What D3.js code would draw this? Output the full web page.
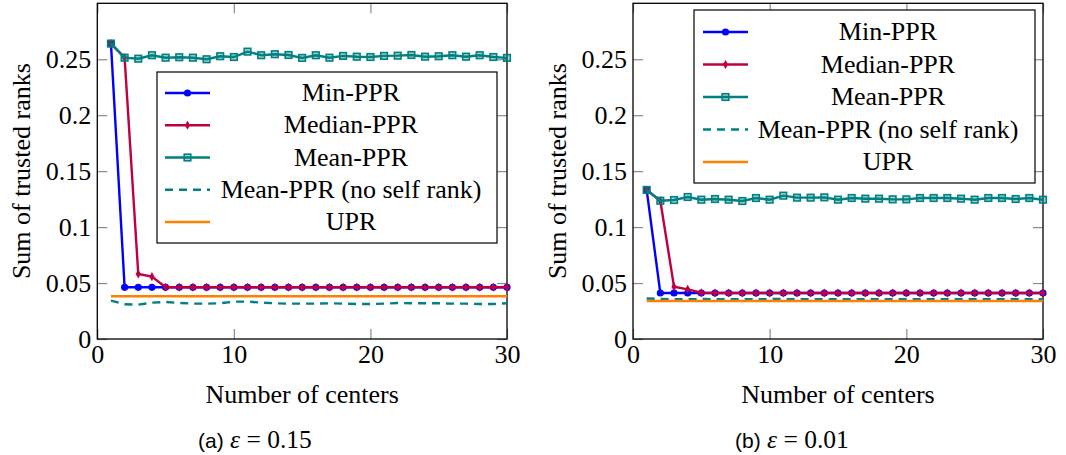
<!DOCTYPE html>
<html>
<head>
<meta charset="utf-8">
<script src="https://cdn.jsdelivr.net/npm/d3@7"></script>
<style>
  body { margin: 0; background: #fff; }
</style>
</head>
<body>
<svg id="chart" width="1066" height="455"></svg>
<script>
// number of centers on the x axis
const centers = [1, 2, 3, 4, 5, 6, 7, 8, 9, 10, 11, 12, 13, 14, 15, 16, 17, 18, 19, 20, 21, 22, 23, 24, 25, 26, 27, 28, 29, 30];

// (a) epsilon = 0.15
const minA = [0.264, 0.0462, 0.0462, 0.0462, 0.0462, 0.0462, 0.0462, 0.0462, 0.0462, 0.0462, 0.0462, 0.0462, 0.0462, 0.0462, 0.0462,
  0.0462, 0.0462, 0.0462, 0.0462, 0.0462, 0.0462, 0.0462, 0.0462, 0.0462, 0.0462, 0.0462, 0.0462, 0.0462, 0.0462, 0.0462];
const medianA = [0.264, 0.2514, 0.0581, 0.0557, 0.0462, 0.0462, 0.0462, 0.0462, 0.0462, 0.0462, 0.0462, 0.0462, 0.0462, 0.0462, 0.0462,
  0.0462, 0.0462, 0.0462, 0.0462, 0.0462, 0.0462, 0.0462, 0.0462, 0.0462, 0.0462, 0.0462, 0.0462, 0.0462, 0.0462, 0.0462];
const meanA = [0.264, 0.2514, 0.2505, 0.2536, 0.2514, 0.2518, 0.2514, 0.25, 0.2527, 0.252, 0.2568, 0.2536, 0.2545, 0.2538, 0.2512,
  0.2536, 0.2514, 0.253, 0.2523, 0.252, 0.253, 0.2532, 0.2538, 0.2523, 0.2527, 0.2536, 0.2523, 0.2536, 0.252, 0.2512];
const noSelfA = [0.0343, 0.031, 0.0307, 0.0325, 0.0331, 0.0322, 0.0316, 0.0316, 0.0319, 0.0334, 0.0334, 0.0325, 0.0319, 0.0316, 0.0316,
  0.0316, 0.0319, 0.0316, 0.0313, 0.0313, 0.0316, 0.0322, 0.0319, 0.0319, 0.0319, 0.0316, 0.0316, 0.0313, 0.0313, 0.0319];
const uprA = [0.0382, 0.0382, 0.0382, 0.0382, 0.0382, 0.0382, 0.0382, 0.0382, 0.0382, 0.0382, 0.0382, 0.0382, 0.0382, 0.0382, 0.0382,
  0.0382, 0.0382, 0.0382, 0.0382, 0.0382, 0.0382, 0.0382, 0.0382, 0.0382, 0.0382, 0.0382, 0.0382, 0.0382, 0.0382, 0.0382];

// (b) epsilon = 0.01
const minB = [0.1332, 0.0411, 0.0411, 0.0411, 0.0411, 0.0411, 0.0411, 0.0411, 0.0411, 0.0411, 0.0411, 0.0411, 0.0411, 0.0411, 0.0411,
  0.0411, 0.0411, 0.0411, 0.0411, 0.0411, 0.0411, 0.0411, 0.0411, 0.0411, 0.0411, 0.0411, 0.0411, 0.0411, 0.0411, 0.0411];
const medianB = [0.1332, 0.1236, 0.0467, 0.0444, 0.0413, 0.0411, 0.0411, 0.0411, 0.0411, 0.0411, 0.0411, 0.0411, 0.0411, 0.0411, 0.0411,
  0.0411, 0.0411, 0.0411, 0.0411, 0.0411, 0.0411, 0.0411, 0.0411, 0.0411, 0.0411, 0.0411, 0.0411, 0.0411, 0.0411, 0.0411];
const meanB = [0.1332, 0.1236, 0.1242, 0.1269, 0.1245, 0.1251, 0.1245, 0.1233, 0.126, 0.1245, 0.1281, 0.1263, 0.1263, 0.1266, 0.1245,
  0.126, 0.1254, 0.1254, 0.1248, 0.1248, 0.126, 0.126, 0.126, 0.1254, 0.1245, 0.126, 0.126, 0.1251, 0.126, 0.1245];
const noSelfB = [0.0362, 0.0357, 0.0355, 0.0356, 0.0357, 0.0356, 0.0355, 0.0355, 0.0356, 0.0357, 0.0357, 0.0356, 0.0355, 0.0355, 0.0355,
  0.0355, 0.0356, 0.0355, 0.0355, 0.0355, 0.0355, 0.0356, 0.0356, 0.0355, 0.0355, 0.0355, 0.0355, 0.0355, 0.0355, 0.0356];
const uprB = [0.034, 0.034, 0.034, 0.034, 0.034, 0.034, 0.034, 0.034, 0.034, 0.034, 0.034, 0.034, 0.034, 0.034, 0.034,
  0.034, 0.034, 0.034, 0.034, 0.034, 0.034, 0.034, 0.034, 0.034, 0.034, 0.034, 0.034, 0.034, 0.034, 0.034];

const seriesNames = ["Min-PPR", "Median-PPR", "Mean-PPR", "Mean-PPR (no self rank)", "UPR"];
const xTicks = [0, 10, 20, 30];
const xTickLabels = ["0", "10", "20", "30"];
const yTicks = [0, 0.05, 0.1, 0.15, 0.2, 0.25];
const yTickLabels = ["0", "0.05", "0.1", "0.15", "0.2", "0.25"];
const captionLabels = ["(a)", "(b)"];
const captionEps = ["0.15", "0.01"];

const serif = '"Liberation Serif", "Times New Roman", serif';
const styles = [
  { color: "#0000ff", mark: "circle" },
  { color: "#bf0040", mark: "diamond" },
  { color: "#008080", mark: "square" },
  { color: "#008080", mark: "none", dash: "8,6" },
  { color: "#ff8000", mark: "none" },
];

const svg = d3.select("#chart");

let drawMark = (sel, st, px, py) => {
  if (st.mark === "circle") {
    sel.append("circle").attr("cx", px).attr("cy", py).attr("r", 3.6).attr("fill", st.color);
  } else if (st.mark === "diamond") {
    sel.append("path").attr("transform", `translate(${px},${py})`)
      .attr("d", d3.symbol(d3.symbolDiamond, 24)()).attr("fill", st.color);
  } else if (st.mark === "square") {
    sel.append("rect").attr("x", px - 3.3).attr("y", py - 3.3).attr("width", 6.6).attr("height", 6.6)
      .attr("fill", st.color).attr("fill-opacity", 0.35).attr("stroke", st.color).attr("stroke-width", 1.6);
  }
};

let drawPanel = (p, seriesList, idx) => {
  const x = d3.scaleLinear().domain([0, 30]).range([p.left, p.right]);
  const y = d3.scaleLinear().domain([0, 0.3]).range([339, 3.3]);
  const g = svg.append("g");

  const styleAxis = (ag) => {
    ag.select(".domain").remove();
    ag.selectAll(".tick line").attr("stroke", "#8a8a8a").attr("stroke-width", 1.2);
    ag.selectAll("text").attr("font-family", serif).attr("font-size", 26).attr("fill", "#000");
  };

  // ticks point inwards on all four sides
  g.append("g").attr("transform", `translate(0,${y(0)})`)
    .call(d3.axisBottom(x).tickValues(xTicks).tickSizeInner(-10).tickSizeOuter(0).tickPadding(6)
      .tickFormat((d, i) => xTickLabels[i]))
    .call(styleAxis);
  g.append("g").attr("transform", `translate(0,${y.range()[1]})`)
    .call(d3.axisTop(x).tickValues(xTicks).tickSizeInner(-10).tickSizeOuter(0).tickFormat(""))
    .call(styleAxis);
  g.append("g").attr("transform", `translate(${p.left},0)`)
    .call(d3.axisLeft(y).tickValues(yTicks).tickSizeInner(-10).tickSizeOuter(0).tickPadding(6)
      .tickFormat((d, i) => yTickLabels[i]))
    .call(styleAxis);
  g.append("g").attr("transform", `translate(${p.right},0)`)
    .call(d3.axisRight(y).tickValues(yTicks).tickSizeInner(-10).tickSizeOuter(0).tickFormat(""))
    .call(styleAxis);

  g.append("rect")
    .attr("x", p.left).attr("y", y.range()[1])
    .attr("width", p.right - p.left).attr("height", y(0) - y.range()[1])
    .attr("fill", "none").attr("stroke", "#000").attr("stroke-width", 1.3);

  // series
  const line = d3.line().x((d) => x(d.c)).y((d) => y(d.v));
  seriesList.forEach((vals, si) => {
    const st = styles[si];
    const pts = centers.map((c, i) => ({ c: c, v: vals[i] }));
    g.append("path").datum(pts)
      .attr("fill", "none").attr("stroke", st.color).attr("stroke-width", 2.4)
      .attr("stroke-dasharray", st.dash || null)
      .attr("d", line);
    const mg = g.append("g");
    pts.forEach((d) => drawMark(mg, st, x(d.c), y(d.v)));
  });

  // legend
  const lg = g.append("g");
  lg.append("rect").attr("x", p.leg.x).attr("y", p.leg.y).attr("width", p.leg.w).attr("height", p.leg.h)
    .attr("fill", "#fff").attr("stroke", "#000").attr("stroke-width", 1.2);
  seriesNames.forEach((name, si) => {
    const st = styles[si];
    const ry = p.leg.row0 + si * p.leg.step;
    lg.append("line").attr("x1", p.leg.lx0).attr("x2", p.leg.lx1).attr("y1", ry).attr("y2", ry)
      .attr("stroke", st.color).attr("stroke-width", 2.4).attr("stroke-dasharray", st.dash || null);
    drawMark(lg, st, (p.leg.lx0 + p.leg.lx1) / 2, ry);
    lg.append("text").attr("x", p.leg.tx).attr("y", ry + 8)
      .attr("text-anchor", "middle").attr("font-family", serif).attr("font-size", 26)
      .text(name);
  });

  // axis titles
  g.append("text").attr("x", (p.left + p.right) / 2).attr("y", 403)
    .attr("text-anchor", "middle").attr("font-family", serif).attr("font-size", 26)
    .text("Number of centers");
  g.append("text").attr("transform", `translate(${p.ylabX},${(y(0) + y.range()[1]) / 2}) rotate(-90)`)
    .attr("text-anchor", "middle").attr("font-family", serif).attr("font-size", 26)
    .text("Sum of trusted ranks");

  // caption
  const cap = g.append("text").attr("x", p.capX).attr("y", 448).attr("font-family", serif).attr("font-size", 25.5);
  cap.append("tspan").attr("font-family", '"Liberation Sans", Arial, sans-serif').attr("font-size", 21).text(captionLabels[idx]);
  cap.append("tspan").text(" ");
  cap.append("tspan").attr("font-style", "italic").text("ε");
  cap.append("tspan").text(" = " + captionEps[idx]);
};

drawPanel({
  left: 97.3, right: 507, ylabX: 30, capX: 198,
  leg: { x: 157, y: 72, w: 340, h: 171, row0: 93, step: 32.25, lx0: 165, lx1: 210, tx: 351 },
}, [minA, medianA, meanA, noSelfA, uprA], 0);

drawPanel({
  left: 633, right: 1043, ylabX: 566, capX: 735,
  leg: { x: 694, y: 10, w: 341, h: 173, row0: 32, step: 32.5, lx0: 703, lx1: 748, tx: 888 },
}, [minB, medianB, meanB, noSelfB, uprB], 1);
</script>
</body>
</html>
